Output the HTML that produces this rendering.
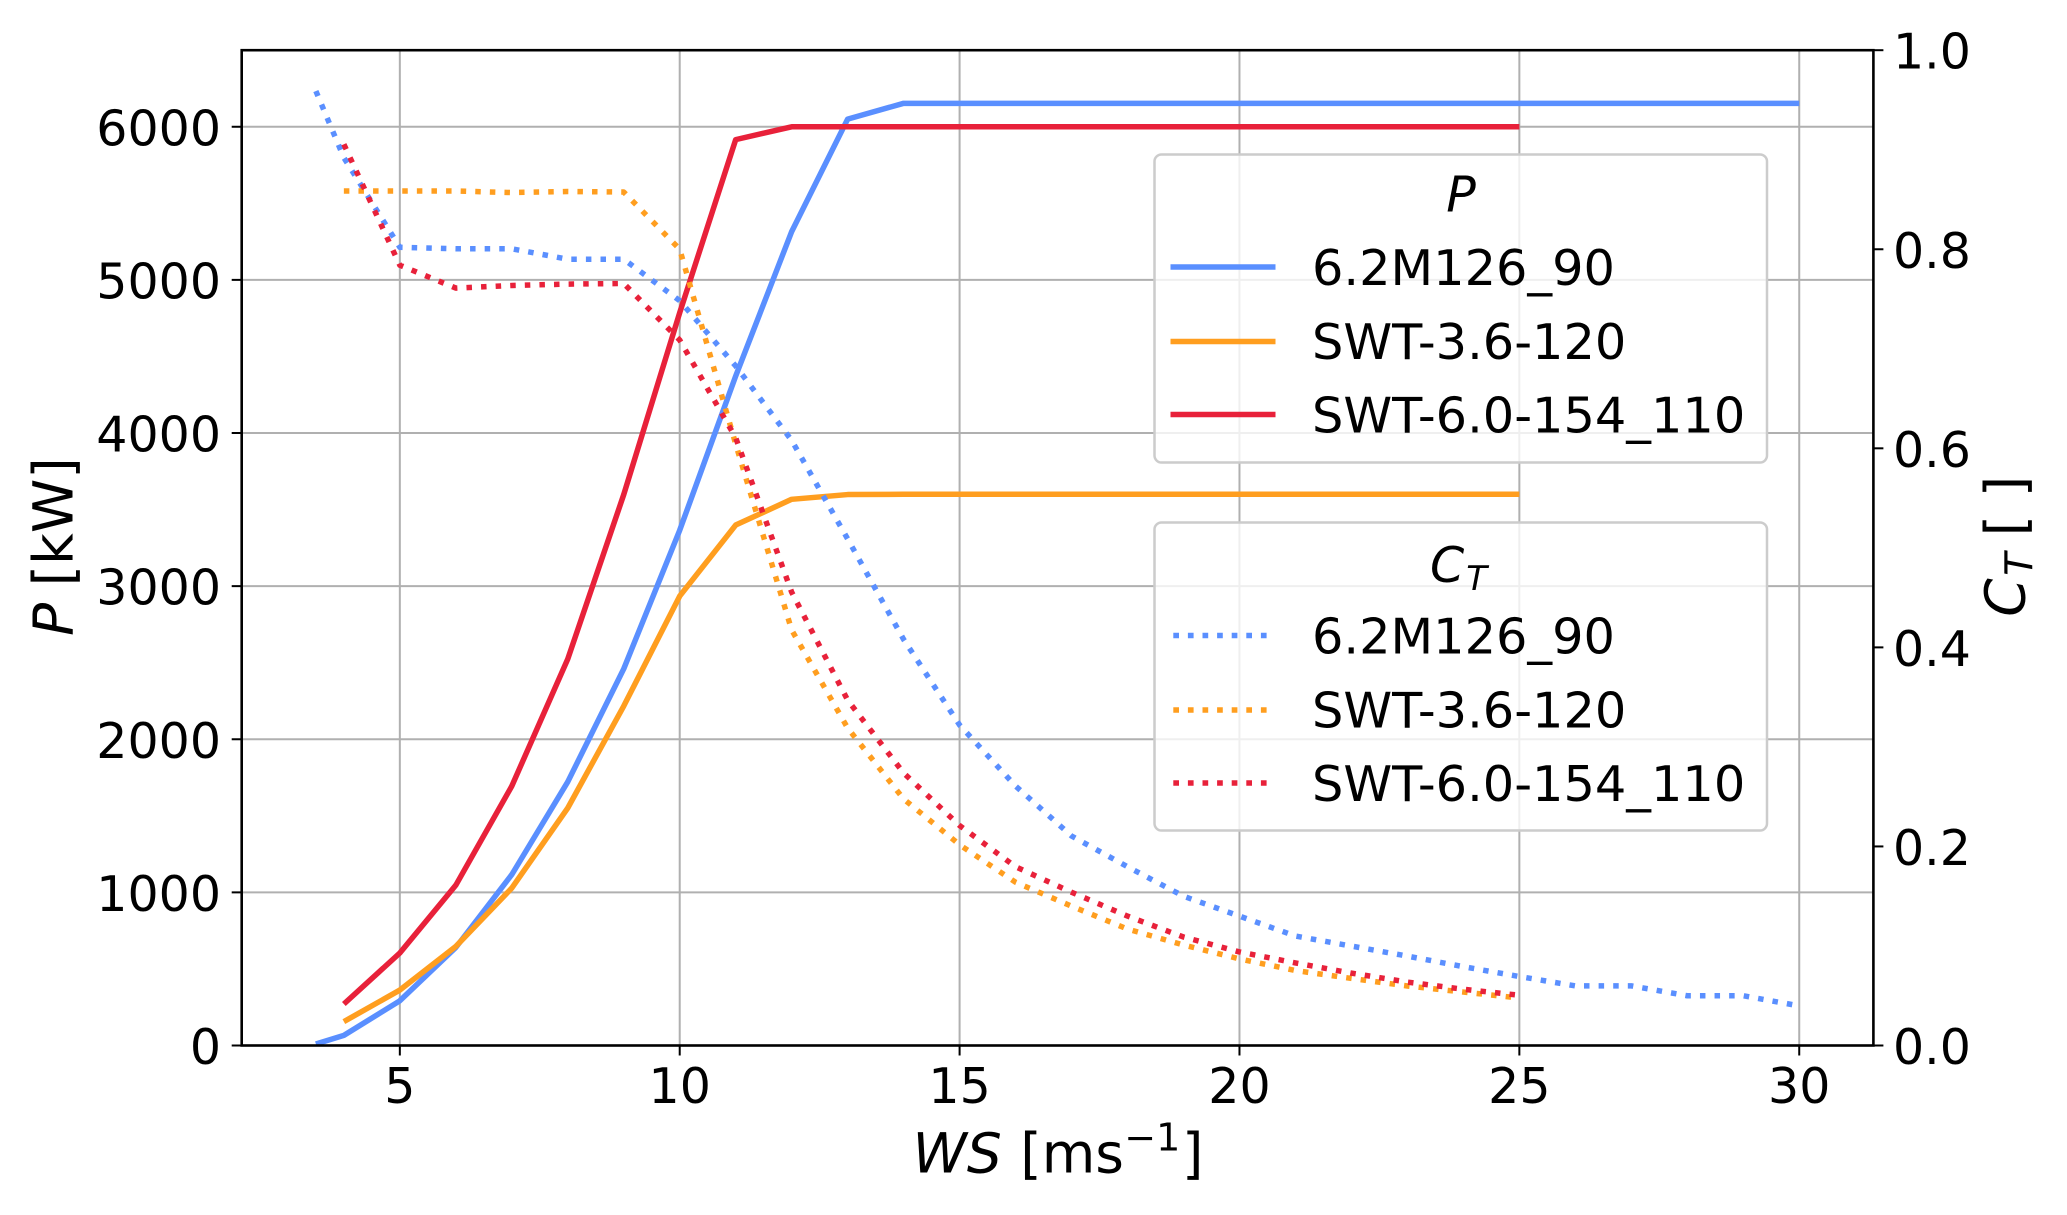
<!DOCTYPE html>
<html lang="en">
<head>
<meta charset="utf-8">
<title>Turbine power and thrust curves</title>
<style>
html,body{margin:0;padding:0;background:#fff;width:2067px;height:1215px;overflow:hidden}
svg{display:block}
text{font-family:"DejaVu Sans","Liberation Sans",sans-serif;fill:#000}
</style>
</head>
<body>
<svg id="chart" width="2067" height="1215" viewBox="0 0 2067 1215" xmlns="http://www.w3.org/2000/svg">
  <g id="grid"></g>
  <g id="power-series"></g>
  <g id="thrust-series"></g>
  <rect x="241.7" y="50.2" width="1631.7" height="995.3" fill="none" stroke="#000" stroke-width="2.6"/>
  <g id="ticks"></g>

  <g>
    <rect x="1154.5" y="154.5" width="612.5" height="308" rx="7" fill="#fff" fill-opacity="0.8" stroke="#ccc" stroke-width="2.5"/>
    <text x="1461" y="211.5" font-size="49" font-style="italic" text-anchor="middle">P</text>
    <line x1="1170.5" x2="1275.5" y1="267" y2="267" stroke="#5a8fff" stroke-width="5.4"/>
    <text x="1312" y="285" font-size="49.4">6.2M126_90</text>
    <line x1="1170.5" x2="1275.5" y1="341.5" y2="341.5" stroke="#ff9e1f" stroke-width="5.4"/>
    <text x="1312" y="359" font-size="49.4">SWT-3.6-120</text>
    <line x1="1170.5" x2="1275.5" y1="414.5" y2="414.5" stroke="#e8213a" stroke-width="5.4"/>
    <text x="1312" y="432.5" font-size="49.4">SWT-6.0-154_110</text>
  </g>

  <g>
    <rect x="1154.5" y="522.5" width="612.5" height="308" rx="7" fill="#fff" fill-opacity="0.8" stroke="#ccc" stroke-width="2.5"/>
    <text x="1430" y="582" font-size="49" font-style="italic">C<tspan font-size="34" dx="2" dy="8">T</tspan></text>
    <line x1="1173.3" x2="1267" y1="635.5" y2="635.5" stroke="#5a8fff" stroke-width="5.5" stroke-dasharray="5.7 8.9"/>
    <text x="1312" y="653.3" font-size="49.4">6.2M126_90</text>
    <line x1="1173.3" x2="1267" y1="710" y2="710" stroke="#ff9e1f" stroke-width="5.5" stroke-dasharray="5.7 8.9"/>
    <text x="1312" y="727.3" font-size="49.4">SWT-3.6-120</text>
    <line x1="1173.3" x2="1267" y1="783" y2="783" stroke="#e8213a" stroke-width="5.5" stroke-dasharray="5.7 8.9"/>
    <text x="1312" y="800.8" font-size="49.4">SWT-6.0-154_110</text>
  </g>

  <text y="1172.7" font-size="55"><tspan x="912.5" font-style="italic">WS</tspan> <tspan x="1020.3">[</tspan><tspan x="1041.7">ms</tspan><tspan x="1124.3" font-size="38" dy="-22">−1</tspan><tspan x="1182" dy="22">]</tspan></text>
  <text transform="translate(72.7 636) rotate(-90)" font-size="55"><tspan x="0" font-style="italic">P</tspan> <tspan x="49.6">[kW]</tspan></text>
  <text transform="translate(2024.5 616.7) rotate(-90)" font-size="55"><tspan x="0" font-style="italic">C</tspan><tspan x="41" font-style="italic" font-size="38" dy="8">T</tspan> <tspan x="80.3" dy="-8">[</tspan> <tspan x="119.5">]</tspan></text>
</svg>

<script>
const xTicks = [5, 10, 15, 20, 25, 30];
const powerTicks = [0, 1000, 2000, 3000, 4000, 5000, 6000];
const thrustTicks = ['0.0', '0.2', '0.4', '0.6', '0.8', '1.0'];

const wsLong = [3.5,4,5,6,7,8,9,10,11,12,13,14,15,16,17,18,19,20,21,22,23,24,25,26,27,28,29,30];
const wsShort = [4,5,6,7,8,9,10,11,12,13,14,15,16,17,18,19,20,21,22,23,24,25];

const power62M = [10,66,292,640,1116,1722,2460,3365,4372,5315,6050,6153,6153,6153,6153,6153,6153,6153,6153,6153,6153,6153,6153,6153,6153,6153,6153,6153];
const powerSwt36 = [156,362,647,1028,1551,2217,2935,3399,3567,3598,3600,3600,3600,3600,3600,3600,3600,3600,3600,3600,3600,3600];
const powerSwt60 = [271,604,1047,1694,2524,3598,4786,5916,6000,6000,6000,6000,6000,6000,6000,6000,6000,6000,6000,6000,6000,6000];

const thrust62M = [0.959,0.892,0.802,0.8005,0.8005,0.790,0.790,0.7483,0.6827,0.608,0.509,0.408,0.322,0.2607,0.2105,0.1796,0.150,0.130,0.110,0.0999,0.0898,0.0792,0.0693,0.0599,0.0599,0.050,0.050,0.0398];
const thrustSwt36 = [0.8585,0.8585,0.8585,0.857,0.858,0.8575,0.800,0.6043,0.4175,0.319,0.2477,0.2017,0.164,0.140,0.117,0.101,0.087,0.0753,0.0674,0.0598,0.0537,0.0477];
const thrustSwt60 = [0.9055,0.784,0.761,0.7636,0.765,0.7656,0.7088,0.6106,0.4555,0.347,0.2738,0.221,0.1796,0.154,0.130,0.109,0.094,0.083,0.0727,0.0637,0.0565,0.0505];

const NS = 'http://www.w3.org/2000/svg';
const plotLeft = 241.7, plotRight = 1873.4, plotTop = 50.2, plotBottom = 1045.5;
const xMin = 2.175, xMax = 31.325, powerMax = 6500, thrustMax = 1;

function xScale(v) { return plotLeft + (v - xMin) / (xMax - xMin) * (plotRight - plotLeft); }
function powerScale(v) { return plotBottom - v / powerMax * (plotBottom - plotTop); }
function thrustScale(v) { return plotBottom - v / thrustMax * (plotBottom - plotTop); }

function drawLine(parent, x1, y1, x2, y2, color, width) {
  const el = document.createElementNS(NS, 'line');
  el.setAttribute('x1', x1);
  el.setAttribute('y1', y1);
  el.setAttribute('x2', x2);
  el.setAttribute('y2', y2);
  el.setAttribute('stroke', color);
  el.setAttribute('stroke-width', width);
  parent.appendChild(el);
  return el;
}

function drawText(parent, x, y, label, anchor) {
  const el = document.createElementNS(NS, 'text');
  el.setAttribute('x', x);
  el.setAttribute('y', y);
  el.setAttribute('font-size', '49');
  el.setAttribute('text-anchor', anchor);
  el.textContent = label;
  parent.appendChild(el);
  return el;
}

function drawSeries(parent, xs, ys, yScale, color, dashed) {
  const el = document.createElementNS(NS, 'path');
  el.setAttribute('d', xs.map((x, i) => (i ? 'L' : 'M') + xScale(x).toFixed(2) + ' ' + yScale(ys[i]).toFixed(2)).join(' '));
  el.setAttribute('fill', 'none');
  el.setAttribute('stroke', color);
  el.setAttribute('stroke-width', '5.5');
  el.setAttribute('stroke-linejoin', 'round');
  if (dashed) el.setAttribute('stroke-dasharray', '5.5 9.1');
  parent.appendChild(el);
  return el;
}

const gridLayer = document.getElementById('grid');
const tickLayer = document.getElementById('ticks');
const powerLayer = document.getElementById('power-series');
const thrustLayer = document.getElementById('thrust-series');

xTicks.forEach(function (v) {
  const g = drawLine(gridLayer, xScale(v), plotTop, xScale(v), plotBottom, '#b0b0b0', 2);
  
  
  const t = drawLine(tickLayer, xScale(v), plotBottom, xScale(v), plotBottom + 10, '#000', 2);
  
  
  const l = drawText(tickLayer, xScale(v), 1103, String(v), 'middle');
  
  
});

powerTicks.forEach(function (v) {
  const g = drawLine(gridLayer, plotLeft, powerScale(v), plotRight, powerScale(v), '#b0b0b0', 2);
  
  
  const t = drawLine(tickLayer, plotLeft - 10, powerScale(v), plotLeft, powerScale(v), '#000', 2);
  
  
  const l = drawText(tickLayer, 221, powerScale(v) + 18.5, String(v), 'end');
  
  
});

thrustTicks.forEach(function (v) {
  const t = drawLine(tickLayer, plotRight, thrustScale(+v), plotRight + 10, thrustScale(+v), '#000', 2);
  
  
  const l = drawText(tickLayer, 1893, thrustScale(+v) + 18.5, v, 'start');
  
  
});

const p1 = drawSeries(powerLayer, wsLong, power62M, powerScale, '#5a8fff', false);


const p2 = drawSeries(powerLayer, wsShort, powerSwt36, powerScale, '#ff9e1f', false);


const p3 = drawSeries(powerLayer, wsShort, powerSwt60, powerScale, '#e8213a', false);



const c1 = drawSeries(thrustLayer, wsLong, thrust62M, thrustScale, '#5a8fff', true);


const c2 = drawSeries(thrustLayer, wsShort, thrustSwt36, thrustScale, '#ff9e1f', true);


const c3 = drawSeries(thrustLayer, wsShort, thrustSwt60, thrustScale, '#e8213a', true);


</script>
</body>
</html>
